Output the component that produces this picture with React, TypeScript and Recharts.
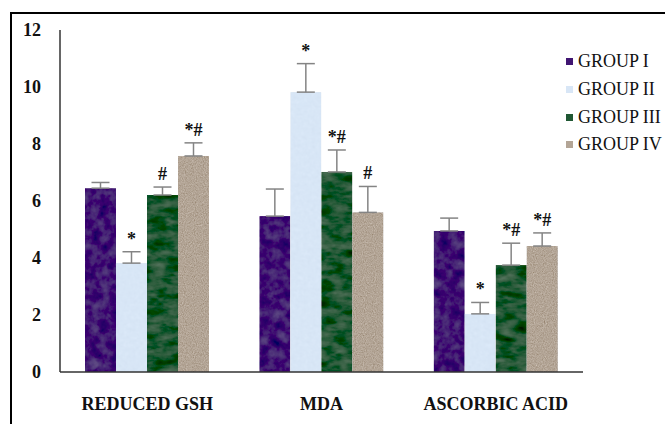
import { BarChart, Bar, XAxis, YAxis, ErrorBar, LabelList } from "recharts";

const CATEGORIES = ["REDUCED GSH", "MDA", "ASCORBIC ACID"];
const GROUPS = ["GROUP I", "GROUP II", "GROUP III", "GROUP IV"];
const COLORS = ["#401572", "#d8e6f6", "#1f5733", "#b3a596"];

// mean values per group, in category order
const G1 = [6.45, 5.47, 4.95];
const G2 = [3.82, 9.82, 2.04];
const G3 = [6.21, 7.02, 3.75];
const G4 = [7.58, 5.6, 4.42];

// upper SEM
const E1 = [0.2, 0.95, 0.45];
const E2 = [0.4, 1.0, 0.4];
const E3 = [0.28, 0.77, 0.77];
const E4 = [0.46, 0.91, 0.46];

// significance marks
const M1 = ["", "", ""];
const M2 = ["*", "*", "*"];
const M3 = ["#", "*#", "*#"];
const M4 = ["*#", "#", "*#"];

const Y_TICKS = [0, 2, 4, 6, 8, 10, 12];

const VALUES = [G1, G2, G3, G4];
const ERRS = [E1, E2, E3, E4];
const MARKS = [M1, M2, M3, M4];

// texture look of each fill (noise frequency, strength)
const TEXTURES = [
  { freq: "0.1", amp: 0.22 },
  { freq: "0.25", amp: 0.1 },
  { freq: "0.06 0.12", amp: 0.32 },
  { freq: "0.9", amp: 0.55 },
];

const data = CATEGORIES.map((name, i) => {
  const row: Record<string, any> = { name };
  GROUPS.forEach((_, g) => {
    row[`g${g}`] = VALUES[g][i];
    row[`e${g}`] = [0, ERRS[g][i]];
    row[`m${g}`] = MARKS[g][i];
  });
  return row;
});

const FONT = "Liberation Serif, Tinos, serif";

function markLabel(g: number) {
  return (props: any) => {
    const { index } = props;
    const vb = props.viewBox || {};
    const x = props.x ?? vb.x;
    const y = props.y ?? vb.y;
    const width = props.width ?? vb.width;
    const height = props.height ?? vb.height;
    const text = MARKS[g][index];
    if (!text) return null;
    const v = VALUES[g][index];
    const ppu = height / v;
    const top = y - ERRS[g][index] * ppu;
    return (
      <text
        x={x + width / 2}
        y={top - 7}
        textAnchor="middle"
        fontFamily={FONT}
        fontSize={18}
        fontWeight="bold"
        fill="#111"
      >
        {text}
      </text>
    );
  };
}

function texturedBar(g: number) {
  return (props: any) => {
    const { x, y, width, height } = props;
    if (!height) return null;
    return <rect x={x} y={y} width={width} height={height} fill={COLORS[g]} filter={`url(#tex${g})`} />;
  };
}

function LegendBox() {
  return (
    <div style={{ position: "absolute", left: 566, top: 48, fontFamily: FONT, fontSize: 18, color: "#111" }}>
      {GROUPS.map((g, i) => (
        <div key={g} style={{ display: "flex", alignItems: "center", height: 27.7, whiteSpace: "nowrap" }}>
          <span style={{ width: 7, height: 7, background: COLORS[i], marginRight: 5, display: "inline-block" }} />
          {g}
        </div>
      ))}
    </div>
  );
}

export default function App() {
  return (
    <div style={{ position: "absolute", left: 0, top: 0, width: 665, height: 424, overflow: "hidden", background: "#fff" }}>
      <div
        style={{
          position: "absolute",
          left: 10,
          top: 12,
          width: 700,
          height: 500,
          border: "2px solid #000",
        }}
      />
      <div style={{ position: "absolute", left: 0, top: 0 }}>
        <BarChart
          width={665}
          height={424}
          data={data}
          margin={{ top: 30, right: 82, bottom: 22, left: 0 }}
          barSize={31}
          barGap={0}
        >
          <defs>
            {TEXTURES.map((t, i) => (
              <filter key={i} id={`tex${i}`} x="0" y="0" width="1" height="1">
                <feTurbulence type="fractalNoise" baseFrequency={t.freq} numOctaves={3} seed={i + 2} result="n" />
                <feColorMatrix
                  in="n"
                  type="matrix"
                  values="0.33 0.33 0.33 0 0  0.33 0.33 0.33 0 0  0.33 0.33 0.33 0 0  0 0 0 0 1"
                  result="g"
                />
                <feComposite in="SourceGraphic" in2="g" operator="arithmetic" k1={0} k2={1} k3={t.amp} k4={-t.amp / 2} result="m" />
                <feComposite in="m" in2="SourceGraphic" operator="in" />
              </filter>
            ))}
          </defs>
          <XAxis
            dataKey="name"
            height={30}
            tickLine={false}
            tickSize={0}
            tickMargin={25}
            axisLine={{ stroke: "#333", strokeWidth: 1.5 }}
            tick={{ fill: "#111", fontSize: 18, fontWeight: "bold", fontFamily: FONT }}
          />
          <YAxis
            width={60}
            domain={[0, 12]}
            ticks={Y_TICKS}
            tickLine={false}
            tickSize={0}
            tickMargin={19}
            axisLine={{ stroke: "#333", strokeWidth: 1.5 }}
            tick={{ fill: "#111", fontSize: 18, fontWeight: "bold", fontFamily: FONT }}
          />
          {GROUPS.map((g, i) => (
            <Bar key={g} dataKey={`g${i}`} name={g} fill={COLORS[i]} shape={texturedBar(i)} isAnimationActive={false}>
              <ErrorBar dataKey={`e${i}`} width={9} stroke="#848484" strokeWidth={1.5} direction="y" />
              <LabelList dataKey={`m${i}`} content={markLabel(i)} />
            </Bar>
          ))}
        </BarChart>
      </div>
      <LegendBox />
    </div>
  );
}
